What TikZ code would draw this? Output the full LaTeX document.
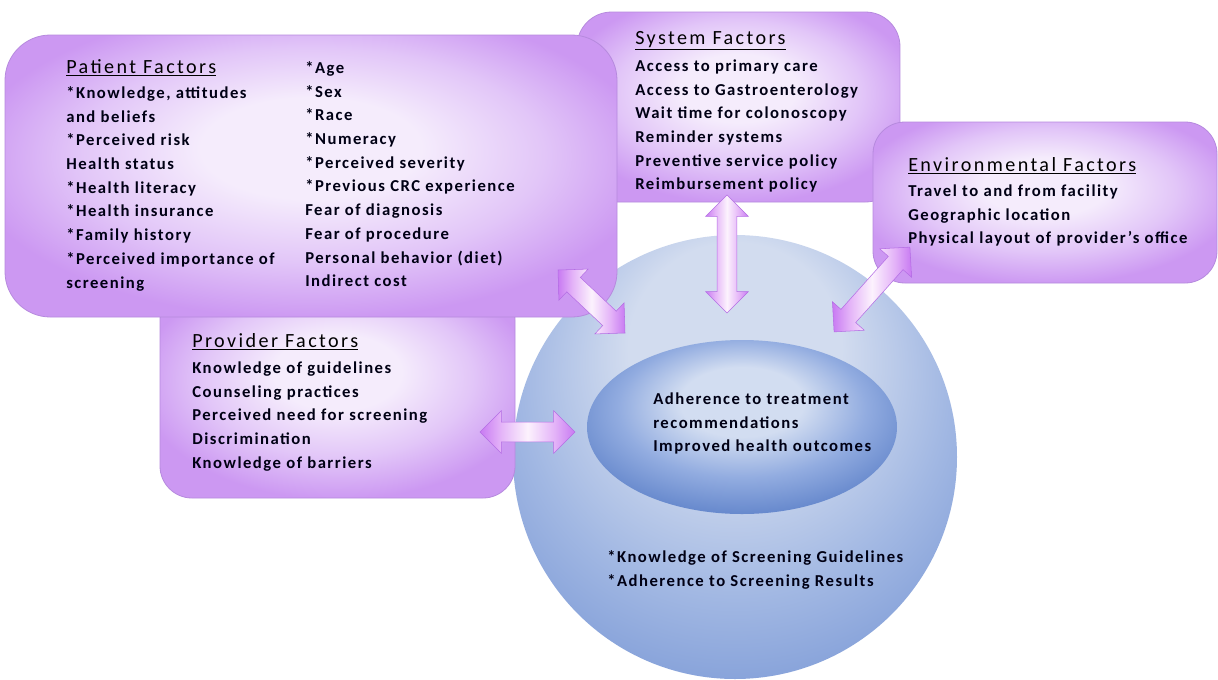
\documentclass[tikz,border=0pt]{standalone}
\usepackage{fontspec}
\setmainfont{Carlito}
\newfontfamily\headface{Carlito}[LetterSpace=12]
\newfontfamily\itemface{Carlito}[LetterSpace=9]
\usetikzlibrary{shapes.geometric,shapes.arrows,fit,calc}

% palette
\definecolor{boxLight}{RGB}{245,236,252}
\definecolor{boxMid}{RGB}{226,198,248}
\definecolor{boxPurple}{RGB}{204,152,242}
\definecolor{boxEdge}{RGB}{182,138,222}
\definecolor{arrowDark}{RGB}{200,122,242}
\definecolor{arrowMid}{RGB}{228,180,248}
\definecolor{arrowLight}{RGB}{252,242,253}
\definecolor{arrowEdge}{RGB}{180,110,228}
\definecolor{discLight}{RGB}{210,220,239}
\definecolor{discMid}{RGB}{162,184,227}
\definecolor{discDark}{RGB}{112,144,210}
\definecolor{ovalLight}{RGB}{210,221,241}
\definecolor{ovalMid}{RGB}{146,172,224}
\definecolor{ovalDark}{RGB}{92,128,200}

% shadings: the shaded path's bounding box covers the central 50bp
\pgfdeclareradialshading{boxshade}{\pgfpoint{0bp}{6bp}}{%
  color(0bp)=(boxLight); color(9bp)=(boxLight); color(19bp)=(boxMid);
  color(28bp)=(boxPurple); color(50bp)=(boxPurple)}
\pgfdeclareradialshading{discshade}{\pgfpoint{0bp}{16bp}}{%
  color(0bp)=(discLight); color(12bp)=(discLight); color(24bp)=(discMid);
  color(38bp)=(discDark); color(50bp)=(discDark)}
\pgfdeclareradialshading{ovalshade}{\pgfpoint{0bp}{9bp}}{%
  color(0bp)=(ovalLight); color(10bp)=(ovalLight); color(20bp)=(ovalMid);
  color(31bp)=(ovalDark); color(50bp)=(ovalDark)}
\pgfdeclarehorizontalshading{arrowshade}{100bp}{%
  color(0bp)=(arrowDark); color(25bp)=(arrowDark); color(36bp)=(arrowMid);
  color(50bp)=(arrowLight); color(64bp)=(arrowMid); color(75bp)=(arrowDark);
  color(100bp)=(arrowDark)}

\newcommand\headfont{\fontsize{15.1pt}{18pt}\selectfont\headface}
\newcommand\itemfont{\fontsize{12.5pt}{17.8pt}\selectfont\itemface\bfseries}
\newcommand\firstline{\rule{0pt}{12pt}}

% double-headed block arrow between two named points
\newcommand\linkarrow[3]{%
  \path let \p1=(#2), \p2=(#3),
    \n1={atan2(\y2-\y1,\x2-\x1)}, \n2={veclen(\x2-\x1,\y2-\y1)} in
    node[linkarrowshape, rotate=\n1, minimum height=\n2] (#1)
      at ($(#2)!0.5!(#3)$) {};}

\tikzset{
  factorbox/.style={draw=boxEdge, line width=0.6pt, shading=boxshade,
    inner sep=0pt, rectangle},
  linkarrowshape/.style={double arrow, double arrow tip angle=90,
    inner xsep=0pt, inner ysep=7.2pt, double arrow head extend=8.6pt,
    draw=arrowEdge, line width=0.4pt, shading=arrowshade},
  heading/.style={anchor=base west, inner sep=0pt, font=\headfont},
  itemlist/.style={anchor=north west, inner sep=0pt, align=left,
    font=\itemfont, text=black!92!blue},
}

\begin{document}
\begin{tikzpicture}[x=0.75pt, y=-0.75pt]
\path[fill=white] (0,0) rectangle (1218,679);
\useasboundingbox (0,0) rectangle (1218,679);

% outcome sphere and its core
\node[circle, minimum size=333pt, inner sep=0pt, shading=discshade]
  (disc) at (735,457) {};
\node[ellipse, minimum width=232.5pt, minimum height=130.5pt, inner sep=0pt,
  shading=ovalshade] (oval) at (742,427) {};

% factor boxes
\node[factorbox, rounded corners=26pt, fit={(577,12) (900,202)}] (system) {};
\node[factorbox, rounded corners=24pt, fit={(160,288) (515,498)}] (provider) {};
\node[factorbox, rounded corners=34pt, fit={(5,35) (617,317)}] (patient) {};
\node[factorbox, rounded corners=24pt, fit={(873,122) (1217,283)}] (environ) {};

% arrow end points
\coordinate (patA) at (558,270);
\coordinate (patB) at (625,333);
\coordinate (sysA) at (727,195);
\coordinate (sysB) at (727,313);
\coordinate (envA) at (910,247);
\coordinate (envB) at (834,332);
\coordinate (proA) at (480,432);
\coordinate (proB) at (575,432);

\linkarrow{patlink}{patA}{patB}
\linkarrow{syslink}{sysA}{sysB}
\linkarrow{envlink}{envA}{envB}
\linkarrow{prolink}{proA}{proB}

% patient factors
\node[heading] (patT) at (66,73) {\underline{Patient Factors}};
\node[itemlist] (patL) at (66,82) {\firstline*Knowledge, attitudes\\and beliefs\\
  *Perceived risk\\Health status\\*Health literacy\\*Health insurance\\
  *Family history\\*Perceived importance of\\screening};
\node[itemlist] (patR) at (305,57) {\firstline*Age\\*Sex\\*Race\\*Numeracy\\
  *Perceived severity\\*Previous CRC experience\\Fear of diagnosis\\
  Fear of procedure\\Personal behavior (diet)\\Indirect cost};

% system factors
\node[heading] (sysT) at (635,44) {\underline{System Factors}};
\node[itemlist] (sysL) at (635,55) {\firstline Access to primary care\\
  Access to Gastroenterology\\Wait time for colonoscopy\\Reminder systems\\
  Preventive service policy\\Reimbursement policy};

% environmental factors
\node[heading] (envT) at (908,171) {\underline{Environmental Factors}};
\node[itemlist] (envL) at (908,180) {\firstline Travel to and from facility\\
  Geographic location\\Physical layout of provider’s office};

% provider factors
\node[heading] (proT) at (192,347) {\underline{Provider Factors}};
\node[itemlist] (proL) at (192,357) {\firstline Knowledge of guidelines\\
  Counseling practices\\Perceived need for screening\\Discrimination\\
  Knowledge of barriers};

% outcomes
\node[itemlist] (ovalL) at (653,388) {\firstline Adherence to treatment\\
  recommendations\\Improved health outcomes};
\node[itemlist] (discL) at (607,546) {\firstline *Knowledge of Screening Guidelines\\
  *Adherence to Screening Results};
\end{tikzpicture}
\end{document}
